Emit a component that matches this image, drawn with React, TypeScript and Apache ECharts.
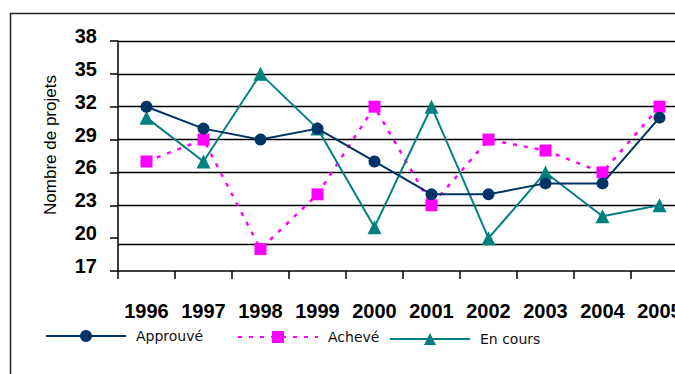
import React, { useEffect, useRef } from "react";
import * as echarts from "echarts";

const years = ["1996", "1997", "1998", "1999", "2000", "2001", "2002", "2003", "2004", "2005"];
const approuve = [32, 30, 29, 30, 27, 24, 24, 25, 25, 31];
const acheve = [27, 29, 19, 24, 32, 23, 29, 28, 26, 32];
const enCours = [31, 27, 35, 30, 21, 32, 20, 26, 22, 23];
// horizontal rules across the plot
const gridValues = [38, 35, 32, 29, 26, 23, 19.4];

const NAVY = "#003366";
const MAGENTA = "#FF00FF";
const TEAL = "#008080";

export default function App() {
  const ref = useRef<HTMLDivElement>(null);

  useEffect(() => {
    if (!ref.current) return;
    const chart = echarts.init(ref.current, null, { renderer: "svg" });

    const legendBase = {
      orient: "horizontal" as const,
      padding: 0,
      itemWidth: 80,
      itemHeight: 15,
      selectedMode: false,
      textStyle: {
        fontFamily: "DejaVu Sans",
        fontSize: 14,
        color: "#111",
        padding: [0, 0, 0, 5],
      },
    };

    chart.setOption({
      animation: false,
      backgroundColor: "#ffffff",
      graphic: [
        {
          type: "rect",
          shape: { x: 10.5, y: 13.5, width: 720, height: 400 },
          style: { fill: "none", stroke: "#222", lineWidth: 1.5 },
          silent: true,
        },
        {
          type: "text",
          x: 50,
          y: 145,
          rotation: Math.PI / 2,
          style: {
            text: "Nombre de projets",
            fontFamily: "Liberation Sans",
            fontSize: 17,
            fill: "#000",
            align: "center",
            verticalAlign: "middle",
          },
        },
      ],
      legend: [
        { ...legendBase, data: ["Approuvé"], left: 45, top: 329 },
        { ...legendBase, data: ["Achevé"], left: 237, top: 330 },
        { ...legendBase, data: ["En cours"], left: 389, top: 332 },
      ],
      grid: { left: 118, top: 41, width: 570, height: 230 },
      xAxis: {
        type: "category",
        data: years,
        boundaryGap: true,
        axisLine: { lineStyle: { color: "#000", width: 1.5 } },
        axisTick: { show: true, length: 8, alignWithLabel: false, lineStyle: { color: "#000", width: 1.5 } },
        axisLabel: {
          margin: 30,
          fontFamily: "Liberation Sans",
          fontWeight: "bold",
          fontSize: 20,
          color: "#000",
          interval: 0,
        },
        splitLine: { show: false },
      },
      yAxis: {
        type: "value",
        min: 17,
        max: 38,
        interval: 3,
        axisLine: { show: true, lineStyle: { color: "#000", width: 1.5 } },
        axisTick: { show: true, length: 8, lineStyle: { color: "#000", width: 1.5 } },
        axisLabel: {
          margin: 21,
          fontFamily: "Liberation Sans",
          fontWeight: "bold",
          fontSize: 20,
          color: "#000",
          verticalAlign: "bottom",
          lineHeight: 10,
        },
        splitLine: { show: false },
      },
      series: [
        {
          name: "Approuvé",
          type: "line",
          data: approuve,
          symbol: "circle",
          symbolSize: 12,
          color: NAVY,
          lineStyle: { color: NAVY, width: 2 },
          itemStyle: { color: NAVY },
          z: 4,
          markLine: {
            silent: true,
            symbol: "none",
            z: 1,
            label: { show: false },
            lineStyle: { color: "#000", width: 1.3, type: "solid" },
            emphasis: { disabled: true },
            data: gridValues.map((v) => ({ yAxis: v })),
          },
        },
        {
          name: "Achevé",
          type: "line",
          data: acheve,
          symbol: "rect",
          symbolSize: 12,
          color: MAGENTA,
          lineStyle: { color: MAGENTA, width: 2.5, type: [4, 7] },
          itemStyle: { color: MAGENTA },
          z: 2,
        },
        {
          name: "En cours",
          type: "line",
          data: enCours,
          symbol: "triangle",
          symbolSize: 14,
          color: TEAL,
          lineStyle: { color: TEAL, width: 2 },
          itemStyle: { color: TEAL },
          z: 3,
        },
      ],
    });

    return () => chart.dispose();
  }, []);

  return (
    <div style={{ position: "fixed", left: 0, top: 0, width: 675, height: 374, overflow: "hidden", background: "#fff" }}>
      <div ref={ref} style={{ width: 720, height: 374 }} />
    </div>
  );
}
